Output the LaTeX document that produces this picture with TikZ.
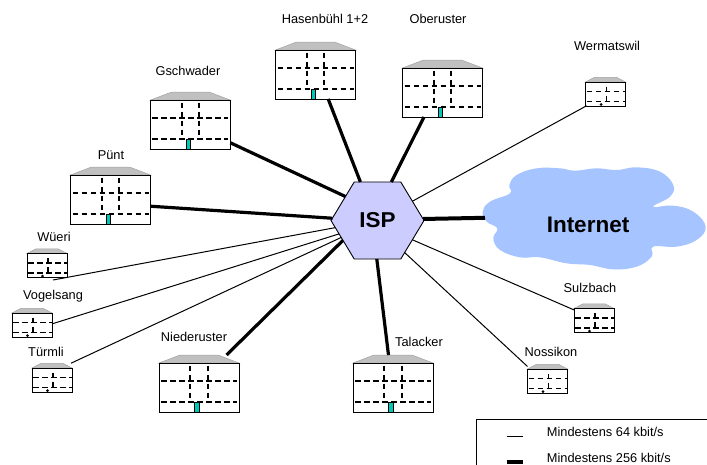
\documentclass[tikz,border=0pt]{standalone}
\usepackage{fontspec}
\setmainfont{Liberation Sans}
\usetikzlibrary{shapes.geometric}
\definecolor{hexfill}{HTML}{CCCCFF}
\definecolor{cloudfill}{HTML}{A6C4FF}
\definecolor{rooffill}{HTML}{C0C0C0}
\definecolor{doorfill}{HTML}{00C8B8}
\tikzset{
  thinlink/.style={line width=1pt},
  thicklink/.style={line width=3.2pt},
  wall/.style={draw=black, fill=white, line width=0.9pt},
  roof/.style={draw=rooffill!85!black, fill=rooffill, line width=0.5pt},
  partition/.style={line width=1.8pt, dash pattern=on 5.5pt off 3.5pt},
  door/.style={draw=black, fill=doorfill, line width=0.8pt},
  sitelabel/.style={font=\fontsize{12.8}{15}\selectfont, inner sep=0pt},
}
\newcommand{\bigsite}[3]{%
  \node [minimum width=80, minimum height=57, inner sep=0pt, outer sep=0pt] (#1) at (#2,#3) {};
  \begin{scope}[shift={(#2,#3)}]
    \draw [roof] (-40,-20.5) -- ++(21,-8) -- ++(38,0) -- ++(21,8) -- cycle;
    \draw [wall] (-40,-20.5) rectangle (40,28.5);
    \draw [partition] (-38,-2.5) -- (38,-2.5);
    \draw [partition] (-38,18.3) -- (38,18.3);
    \draw [partition] (-8.7,-18) -- (-8.7,18);
    \draw [partition] (8.7,-18) -- (8.7,18);
    \draw [door] (-4.4,19) rectangle (0.3,28.5);
  \end{scope}
}
\newcommand{\smallsite}[3]{%
  \node [minimum width=40, minimum height=28.5, inner sep=0pt, outer sep=0pt] (#1) at (#2,#3) {};
  \begin{scope}[shift={(#2,#3)}]
    \draw [roof] (-20,-9.5) -- ++(9,-4.75) -- ++(22,0) -- ++(9,4.75) -- cycle;
    \draw [wall] (-20,-9.5) rectangle (20,14.5);
    \draw [partition] (-19,0) -- (20,0);
    \draw [partition] (-19,10) -- (20,10);
    \draw [partition] (1,-5) -- (1,10);
    \fill (-4.5,13) circle (1.5);
  \end{scope}
}
\begin{document}
\begin{tikzpicture}[x=1pt,y=-1pt]
\clip (0,0) rectangle (707,464);
%
% Cloud
\begin{scope}[shift={(320,150)}, scale=0.3333]
\fill [cloudfill] plot[smooth cycle, tension=0.7] coordinates{
  (568,105) (590,75) (650,55) (720,55) (765,62) (830,55) (890,60) (950,52)
  (1020,65) (1060,105) (1050,140) (1000,170) (1060,167) (1120,185) (1157,230)
  (1130,270) (1070,290) (1000,290) (995,320) (950,350) (880,358) (810,345)
  (740,340) (660,322) (600,322) (540,300) (520,265) (532,235) (500,215)
  (488,185) (510,155) (570,130)};
\end{scope}
\node [minimum width=206, minimum height=90, inner sep=0pt, outer sep=0pt,
       font=\fontsize{22.5}{24}\selectfont\bfseries] (internet) at (588,225) {Internet};
%
% Hub
\node [regular polygon, regular polygon sides=6,
       minimum size=93, inner sep=0pt, outer sep=0pt,
       draw=black, fill=hexfill, line width=0.9pt, transform shape, yscale=0.957,
       font=\fontsize{22.5}{24}\selectfont\bfseries] (isp) at (377.5,220.5) {ISP};
%
% Large sites
\bigsite{hasenbuehl}{315.5}{70.5}
\bigsite{oberuster}{442.5}{88.5}
\bigsite{gschwader}{190.4}{120.6}
\bigsite{puent}{110.5}{195.5}
\bigsite{niederuster}{199}{383.5}
\bigsite{talacker}{393}{383.5}
%
% Small sites
\smallsite{wermatswil}{605.5}{91.5}
\smallsite{wueeri}{47}{263}
\smallsite{vogelsang}{32}{322.5}
\smallsite{tuermli}{52}{377.5}
\smallsite{sulzbach}{594}{318}
\smallsite{nossikon}{547.5}{378.5}
%
% Site names
\node [sitelabel] (lhasenbuehl) at (325,19) {Hasenbühl 1+2};
\node [sitelabel] (loberuster) at (438,19) {Oberuster};
\node [sitelabel] (lgschwader) at (188,71) {Gschwader};
\node [sitelabel] (lpuent) at (111,155) {Pünt};
\node [sitelabel] (lwermatswil) at (607,46) {Wermatswil};
\node [sitelabel] (lwueeri) at (54,237) {Wüeri};
\node [sitelabel] (lvogelsang) at (53,296) {Vogelsang};
\node [sitelabel] (ltuermli) at (46,352) {Türmli};
\node [sitelabel] (lsulzbach) at (590,288) {Sulzbach};
\node [sitelabel] (lnossikon) at (551,352) {Nossikon};
\node [sitelabel] (lniederuster) at (194,337) {Niederuster};
\node [sitelabel] (ltalacker) at (419,342) {Talacker};
%
% Fast links
\foreach \from/\angfrom/\angto in {hasenbuehl/-66.3/113.2, oberuster/-123/71,
    gschwader/-29/142, puent/-15.8/177.3, niederuster/46/211.8, talacker/99.4/269.3}
  \draw [thicklink] (\from.\angfrom) -- (isp.\angto);
\draw [thicklink, line width=4pt] (isp.2) -- (internet.176.7);
%
% Slow links
\coordinate (wueeriend) at (53,280);
\draw [thinlink] (wueeriend) -- (isp.190.4);
\foreach \from/\angfrom/\angto in {vogelsang/-4.3/200.4, tuermli/37/206.4,
    wermatswil/-143/30, sulzbach/158/330, nossikon/149.5/309.4}
  \draw [thinlink] (\from.\angfrom) -- (isp.\angto);
%
% Legend
\node [draw=black, line width=0.9pt, minimum width=260, minimum height=70, inner sep=0pt,
       anchor=north west] (legend) at (476,418.5) {};
\coordinate (keythin) at (506.7,436);
\coordinate (keythick) at (506.7,462);
\draw [thinlink] (keythin) -- ++(16.6,0);
\draw [line width=4pt] (keythick) -- ++(16.6,0);
\node [sitelabel, anchor=west] (lkeythin) at (546.7,431.7) {Mindestens 64 kbit/s};
\node [sitelabel, anchor=west] (lkeythick) at (546.7,457.7) {Mindestens 256 kbit/s};
%
\end{tikzpicture}
\end{document}
